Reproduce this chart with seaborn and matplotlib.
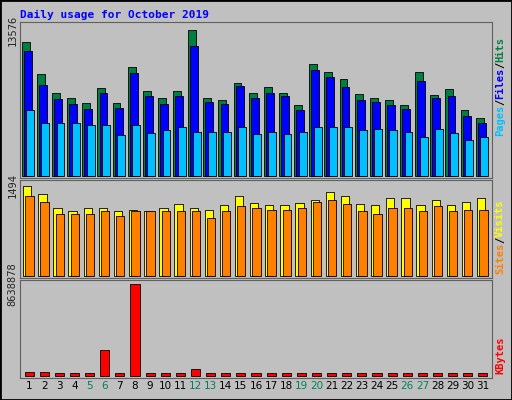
import numpy as np
import matplotlib
matplotlib.use("Agg")
import matplotlib.pyplot as plt
import seaborn as sns

days = np.arange(1, 32)
weekend = [5, 6, 12, 13, 19, 20, 26, 27]

hits = [12460, 9490, 7720, 7250, 6790, 8180, 6790, 10140, 7950, 7250, 7950, 13576, 7250, 7070,
        8650, 7720, 8280, 7720, 6600, 10420, 9670, 9020, 7630, 7250, 7070, 6600, 9670, 7530, 8090, 6140, 5400]
files = [11630, 8460, 7160, 6700, 6230, 7720, 6320, 9570, 7440, 6700, 7440, 12090, 6880, 6700,
         8370, 7250, 7720, 7440, 6140, 9860, 9260, 8280, 7070, 6880, 6600, 6230, 8830, 7250, 7440, 5580, 4930]
pages = [6140, 4930, 4930, 4930, 4740, 4740, 3810, 4740, 4000, 4280, 4560, 4090, 4090, 4090,
         4560, 3910, 4090, 3910, 4090, 4560, 4560, 4560, 4280, 4370, 4280, 4090, 3630, 4370, 4000, 3350, 3630]
visits = [1494, 1360, 1130, 1070, 1130, 1130, 1070, 1100, 1070, 1130, 1200, 1130, 1100, 1180,
          1330, 1210, 1180, 1180, 1210, 1260, 1390, 1330, 1200, 1180, 1300, 1300, 1180, 1260, 1180, 1230, 1300]
sites = [1330, 1230, 1030, 1030, 1030, 1070, 1000, 1070, 1070, 1070, 1070, 1070, 970, 1070,
         1160, 1130, 1100, 1100, 1130, 1230, 1260, 1200, 1070, 1030, 1130, 1130, 1070, 1160, 1070, 1100, 1100]
kbytes = [380000, 380000, 280000, 280000, 280000, 2440000, 280000, 8638878, 280000, 280000, 280000,
          650000, 280000, 280000, 330000, 280000, 280000, 280000, 280000, 330000, 330000, 280000,
          280000, 280000, 280000, 280000, 330000, 280000, 280000, 280000, 280000]

sns.set_style("white")
plt.rcParams["font.family"] = ["DejaVu Sans Mono"]
bg = "#C0C0C0"
fig = plt.figure(figsize=(5.12, 4.0), dpi=100, facecolor=bg)

W, H = 512, 400
def mkax(top, bottom):
    ax = fig.add_axes([20 / W, 1 - bottom / H, 472 / W, (bottom - top) / H])
    ax.set_facecolor(bg)
    ax.set_xlim(0.4, 31.6)
    for s in ax.spines.values():
        s.set_color("#606060")
    ax.tick_params(axis="both", length=0, labelsize=7.5, pad=2)
    ax.set_xticks([])
    return ax

ek = dict(edgecolor="black", linewidth=0.6)
ax1 = mkax(22, 178)
ax1.bar(days - 0.22, hits, width=0.52, color="#008040", **ek)
ax1.bar(days - 0.08, files, width=0.52, color="#0000FF", **ek)
ax1.bar(days + 0.08, pages, width=0.52, color="#00C0FF", **ek)
ax1.set_ylim(-200, 14350)
ax1.set_yticks([max(hits)])
ax1.set_yticklabels([str(max(hits))], rotation=90, va="center")

ax2 = mkax(180, 278)
ax2.bar(days - 0.12, visits, width=0.55, color="#FFFF00", **ek)
ax2.bar(days + 0.03, sites, width=0.55, color="#FF8000", **ek)
ax2.set_ylim(-30, 1590)
ax2.set_yticks([max(visits)])
ax2.set_yticklabels([str(max(visits))], rotation=90, va="center")

ax3 = mkax(280, 378)
ax3.bar(days, kbytes, width=0.6, color="#FF0000", **ek)
ax3.set_ylim(-180000, 9000000)
ax3.set_yticks([max(kbytes)])
ax3.set_yticklabels([str(max(kbytes))], rotation=90, va="center")
ax3.set_xticks(days)
ax3.set_xticklabels([str(d) for d in days], fontfamily="DejaVu Sans")
for lbl, d in zip(ax3.get_xticklabels(), days):
    lbl.set_color("#00805c" if d in weekend else "black")

fig.text(20 / W, 1 - 15 / H, "Daily usage for October 2019", color="#0000FF",
         fontsize=8, fontweight="bold", va="center")

def side(parts, y0):
    y = y0
    for txt, c in parts:
        fig.text(500 / W, 1 - y / H, txt, color=c, rotation=90, fontsize=7.5,
                 fontweight="bold", ha="center", va="bottom")
        y -= len(txt) * 6.2

side([("Pages", "#00C0FF"), ("/", "black"), ("Files", "#0000FF"), ("/", "black"), ("Hits", "#008040")], 136)
side([("Sites", "#FF8000"), ("/", "black"), ("Visits", "#FFFF00")], 274)
side([("KBytes", "#FF0000")], 374)

fig.patches.append(plt.Rectangle((0, 0), 1, 1, transform=fig.transFigure, fill=False,
                                 edgecolor="black", linewidth=2))
fig.savefig("out.png", dpi=100, facecolor=bg)
